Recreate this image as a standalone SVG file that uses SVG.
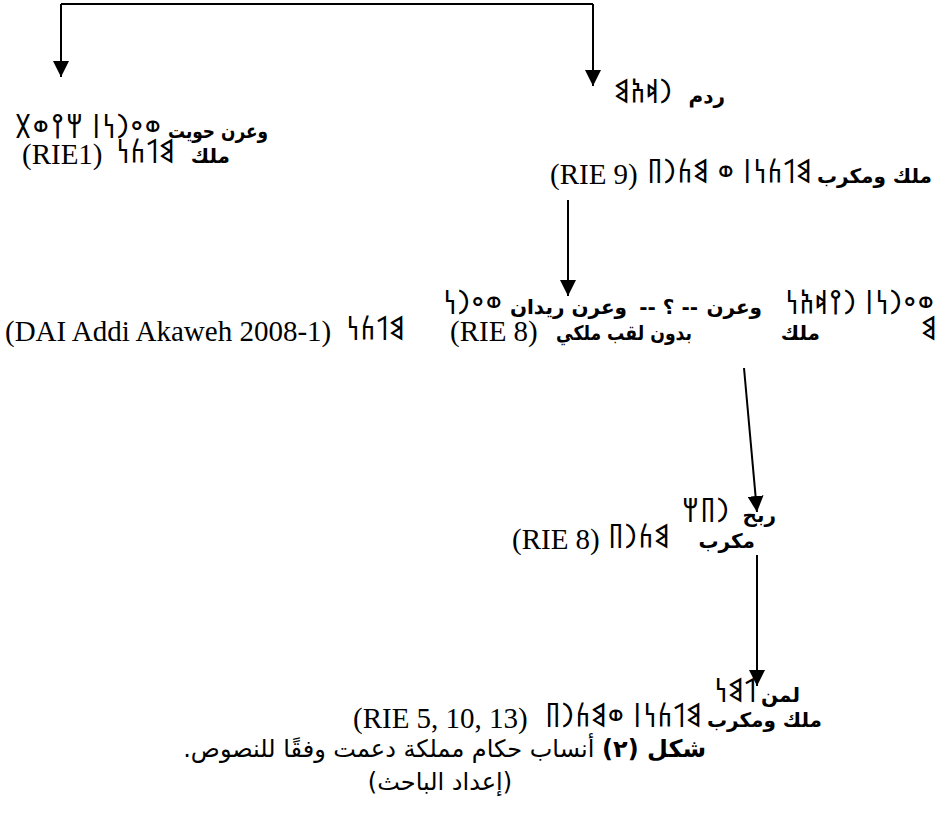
<svg xmlns="http://www.w3.org/2000/svg" width="937" height="818" viewBox="0 0 937 818">
<style>
.ar{font-family:"DejaVu Sans",sans-serif;font-size:20px;fill:#000}
.b{font-weight:bold}
.cap{font-size:24px}
.lat{font-family:"Liberation Serif",serif;font-size:29px;fill:#000}
.osa{font-family:"Noto Sans","DejaVu Sans",sans-serif;font-size:28px;fill:#000}
.ln{fill:none;stroke:#000;stroke-width:2}
</style>
<defs>
<marker id="ah" viewBox="0 0 16 16" refX="16" refY="8" markerWidth="16" markerHeight="16" markerUnits="userSpaceOnUse" orient="auto">
<path d="M0,0 L16,8 L0,16 z" fill="#000"/>
</marker>
</defs>
<g id="connectors">
<path class="ln" d="M61,4 H593"/>
<path class="ln" d="M61,4 V77" marker-end="url(#ah)"/>
<path class="ln" d="M593,4 V86" marker-end="url(#ah)"/>
<path class="ln" d="M568,200 V296" marker-end="url(#ah)"/>
<path class="ln" d="M744,368 L757,512" marker-end="url(#ah)"/>
<path class="ln" d="M757,555 V686" marker-end="url(#ah)"/>
</g>
<g id="node-hwyt">
<text class="ar b" x="268" y="138" text-anchor="end" textLength="100" lengthAdjust="spacingAndGlyphs">وعرن حويت</text>
<text class="osa" x="162" y="138" text-anchor="end">𐩥𐩲𐩧𐩬𐩽 𐩢𐩺𐩥𐩩</text>
<text class="ar b" x="230" y="163" text-anchor="end">ملك</text>
<text class="osa" x="175" y="163" text-anchor="end">𐩣𐩡𐩫𐩬</text>
<text class="lat" x="22" y="164">(RIE1)</text>
</g>
<g id="node-radm">
<text class="ar b" x="725" y="103" text-anchor="end">ردم</text>
<text class="osa" x="673" y="103" text-anchor="end">𐩧𐩵𐩱𐩣</text>
<text class="ar b" x="932" y="183" text-anchor="end">ملك ومكرب</text>
<text class="osa" x="812" y="183" text-anchor="end">𐩣𐩡𐩫𐩬𐩽 𐩥 𐩣𐩫𐩧𐩨</text>
<text class="lat" x="550" y="184">(RIE 9)</text>
</g>
<g id="node-warn">
<text class="osa" x="443" y="314">𐩥𐩲𐩧𐩬</text>
<text class="ar b" x="627" y="314" text-anchor="end">وعرن ريدان</text>
<text class="ar b" x="698" y="314" text-anchor="end">-- ؟ --</text>
<text class="ar b" x="762" y="314" text-anchor="end">وعرن</text>
<text class="osa" x="935" y="314" text-anchor="end">𐩥𐩲𐩧𐩬𐩽 𐩧𐩺𐩵𐩱𐩬</text>
<text class="lat" x="5" y="341">(DAI Addi Akaweh 2008-1)</text>
<text class="osa" x="405" y="340" text-anchor="end">𐩣𐩡𐩫𐩬</text>
<text class="lat" x="450" y="341">(RIE 8)</text>
<text class="ar b" x="692" y="340" text-anchor="end" textLength="136" lengthAdjust="spacingAndGlyphs">بدون لقب ملكي</text>
<text class="ar b" x="820" y="340" text-anchor="end">ملك</text>
<text class="osa" x="921" y="340">𐩣</text>
</g>
<g id="node-rbh">
<text class="ar b" x="776" y="522" text-anchor="end">ربح</text>
<text class="osa" x="730" y="522" text-anchor="end">𐩧𐩨𐩢</text>
<text class="ar b" x="755" y="548" text-anchor="end">مكرب</text>
<text class="osa" x="670" y="548" text-anchor="end">𐩣𐩫𐩧𐩨</text>
<text class="lat" x="512" y="549">(RIE 8)</text>
</g>
<g id="node-lmn">
<text class="ar b" x="800" y="702" text-anchor="end">لمن</text>
<text class="osa" x="757" y="702" text-anchor="end">𐩡𐩣𐩬</text>
<text class="ar b" x="822" y="727" text-anchor="end">ملك ومكرب</text>
<text class="osa" x="702" y="727" text-anchor="end">𐩣𐩡𐩫𐩬𐩽 𐩥𐩣𐩫𐩧𐩨</text>
<text class="lat" x="353" y="728">(RIE 5, 10, 13)</text>
</g>
<g id="caption">
<text class="ar cap" x="706" y="757" direction="rtl" text-anchor="start"><tspan class="b">شكل (٢)</tspan> أنساب حكام مملكة دعمت وفقًا للنصوص.</text>
<text class="ar cap" x="440" y="790" text-anchor="middle">(إعداد الباحث)</text>
</g>
</svg>
